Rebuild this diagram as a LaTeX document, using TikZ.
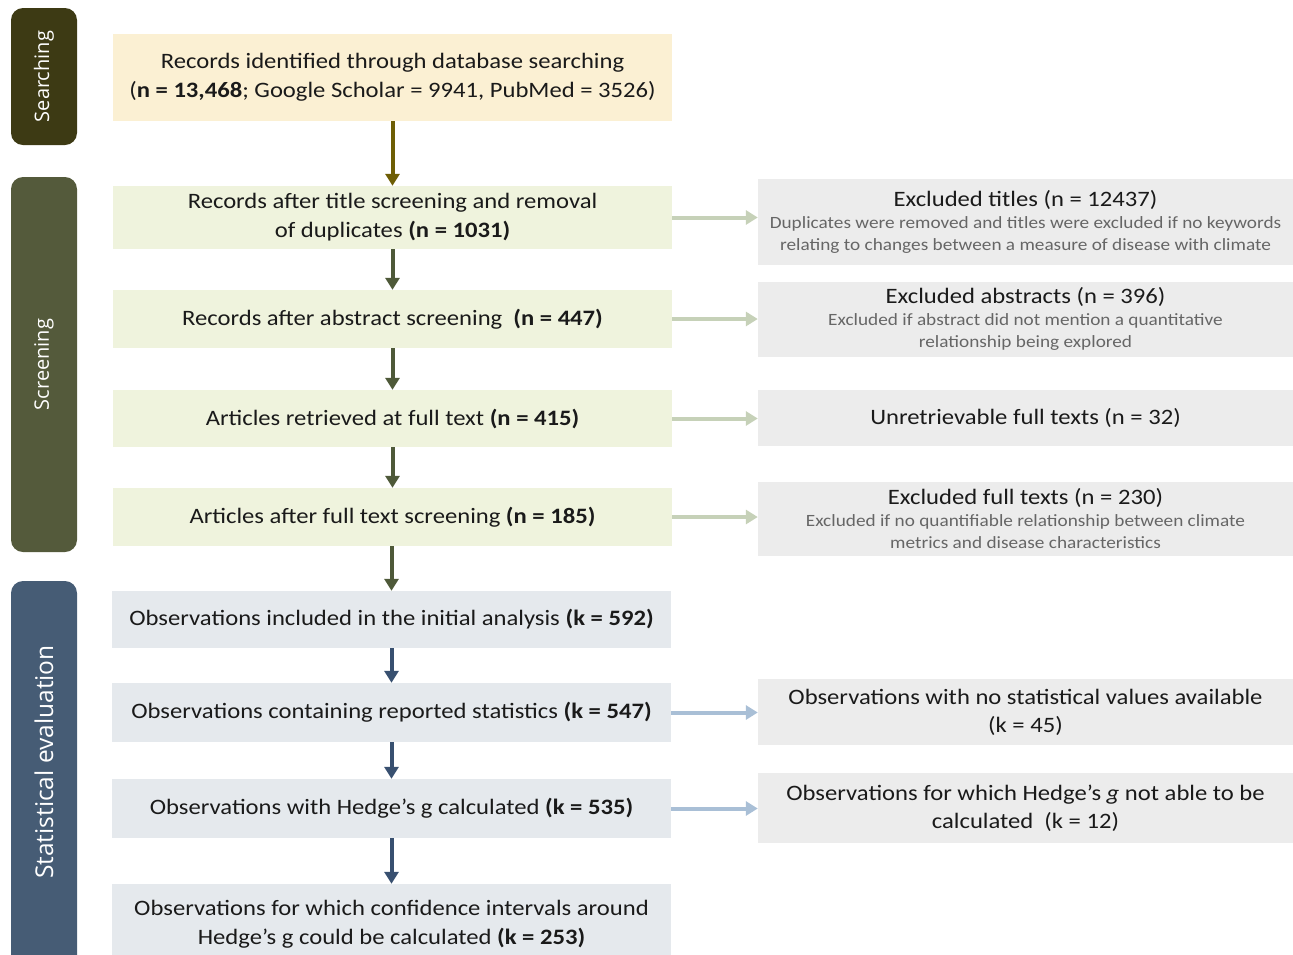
\documentclass[tikz,border=0pt]{standalone}
\usepackage{fontspec}
\setmainfont[FakeStretch=1.12]{Carlito}
\newfontfamily\sidefont{Open Sans}
\usetikzlibrary{arrows.meta}
\definecolor{sideA}{HTML}{3D3A14}
\definecolor{sideB}{HTML}{545A3B}
\definecolor{sideC}{HTML}{465C75}
\definecolor{fillA}{HTML}{FBF0D3}
\definecolor{fillB}{HTML}{EFF3DD}
\definecolor{fillC}{HTML}{E5E9ED}
\definecolor{fillR}{HTML}{ECECEC}
\definecolor{arrA}{HTML}{6E5E05}
\definecolor{arrB}{HTML}{4E5939}
\definecolor{arrC}{HTML}{385070}
\definecolor{harrB}{HTML}{C6D1B8}
\definecolor{harrC}{HTML}{A9BFD6}
\definecolor{txt}{HTML}{1A1A1A}
\definecolor{subtxt}{HTML}{666666}
\tikzset{
  mainbox/.style={draw=none, inner sep=0pt, minimum width=559pt, text width=555pt, align=flush center, text=txt,
    font=\fontsize{22}{29}\selectfont},
  rightbox/.style={draw=none, fill=fillR, inner sep=0pt, minimum width=535pt, text width=533pt, align=flush center, text=txt,
    font=\fontsize{22}{28}\selectfont},
  sidebox/.style={fill=#1, rounded corners=12pt, inner sep=0pt, minimum height=66pt, rotate=90, text=white,
    font=\sidefont\fontsize{20}{24}\selectfont},
  varr/.style={line width=4pt, -{Triangle[width=14pt,length=12pt]}},
  harr/.style={line width=4pt, -{Triangle[width=14pt,length=12pt]}}
}
\newcommand{\rtitle}[1]{{\fontsize{22}{27}\selectfont #1\par}}
\newcommand{\subt}[1]{{\color{subtxt}\fontsize{17.2}{22}\selectfont #1\par}}
\begin{document}
\begin{tikzpicture}[x=1pt,y=-1pt]
\useasboundingbox (0,0) rectangle (1293,954);
\begin{scope}
\clip (0,0) rectangle (1293,954);
% side labels
\node[sidebox=sideA, minimum width=137pt] (sA) at (44,76.5) {Searching};
\node[sidebox=sideB, minimum width=375pt] (sB) at (44,364.5) {Screening};
\node[sidebox=sideC, minimum width=395pt] (sC) at (44,778.5) {};
\node[rotate=90, text=white, font=\sidefont\fontsize{24.5}{26}\selectfont] (sCt) at (44,762) {Statistical evaluation};

% main boxes
\node[mainbox, fill=fillA, minimum height=87pt] (b1) at (392.5,77.5) {Records identified through database searching\\(\textbf{n = 13,468}; Google Scholar = 9941, PubMed = 3526)};
\node[mainbox, fill=fillB, minimum height=63pt] (b2) at (392.5,217.5) {Records after title screening and removal\\of duplicates \textbf{(n = 1031)}};
\node[mainbox, fill=fillB, minimum height=58pt] (b3) at (392.5,319) {Records after abstract screening\ \ \textbf{(n = 447)}};
\node[mainbox, fill=fillB, minimum height=57pt] (b4) at (392.5,418.5) {Articles retrieved at full text \textbf{(n = 415)}};
\node[mainbox, fill=fillB, minimum height=58pt] (b5) at (392.5,517) {Articles after full text screening \textbf{(n = 185)}};
\node[mainbox, fill=fillC, minimum height=57pt] (b6) at (391.5,619.5) {Observations included in the initial analysis \textbf{(k = 592)}};
\node[mainbox, fill=fillC, minimum height=59pt] (b7) at (391.5,712.5) {Observations containing reported statistics \textbf{(k = 547)}};
\node[mainbox, fill=fillC, minimum height=59pt] (b8) at (391.5,808.5) {Observations with Hedge’s g calculated \textbf{(k = 535)}};
\node[mainbox, fill=fillC, minimum height=80pt] (b9) at (391.5,924) {Observations for which confidence intervals around\\Hedge’s g could be calculated \textbf{(k = 253)}\\[15pt]};

% right boxes
\node[rightbox, minimum height=86pt] (r1) at (1025.5,222) {\rtitle{Excluded titles (n = 12437)}\subt{Duplicates were removed and titles were excluded if no keywords\\relating to changes between a measure of disease with climate}};
\node[rightbox, minimum height=75pt] (r2) at (1025.5,319) {\rtitle{Excluded abstracts (n = 396)}\subt{Excluded if abstract did not mention a quantitative\\relationship being explored}};
\node[rightbox, minimum height=56pt] (r3) at (1025.5,418) {Unretrievable full texts (n = 32)};
\node[rightbox, minimum height=74pt] (r4) at (1025.5,518.5) {\rtitle{Excluded full texts (n = 230)}\subt{Excluded if no quantifiable relationship between climate\\metrics and disease characteristics}};
\node[rightbox, minimum height=66pt] (r5) at (1025.5,712) {Observations with no statistical values available\\(k = 45)};
\node[rightbox, minimum height=70pt] (r6) at (1025.5,808) {Observations for which Hedge’s \textit{g} not able to be\\calculated\ \ (k = 12)};

% vertical arrows
\draw[varr, arrA] (b1.south) -- (b2.north);
\draw[varr, arrB] (b2.south) -- (b3.north);
\draw[varr, arrB] (b3.south) -- (b4.north);
\draw[varr, arrB] (b4.south) -- (b5.north);
\draw[varr, arrB] (b5.south -| b6.north) -- (b6.north);
\draw[varr, arrC] (b6.south) -- (b7.north);
\draw[varr, arrC] (b7.south) -- (b8.north);
\draw[varr, arrC] (b8.south) -- (b9.north);

% horizontal arrows
\draw[harr, harrB] (b2.east) -- (b2.east -| r1.west);
\draw[harr, harrB] (b3.east) -- (b3.east -| r2.west);
\draw[harr, harrB] (b4.east) -- (b4.east -| r3.west);
\draw[harr, harrB] (b5.east) -- (b5.east -| r4.west);
\draw[harr, harrC] (b7.east) -- (b7.east -| r5.west);
\draw[harr, harrC] (b8.east) -- (b8.east -| r6.west);
\end{scope}
\end{tikzpicture}
\end{document}
